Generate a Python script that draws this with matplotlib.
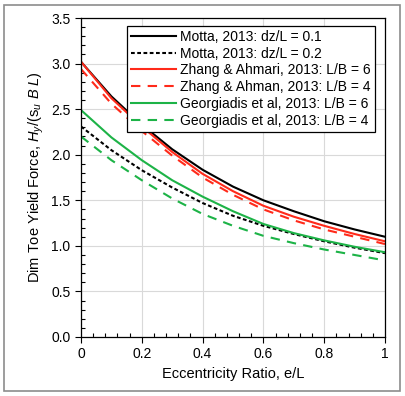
import matplotlib
matplotlib.use("Agg")
import matplotlib.pyplot as plt
from matplotlib.patches import Rectangle
from matplotlib.ticker import MultipleLocator

plt.rcParams['font.family'] = ['Liberation Sans', 'DejaVu Sans']
plt.rcParams['mathtext.fontset'] = 'custom'
plt.rcParams['mathtext.rm'] = 'Liberation Sans'
plt.rcParams['mathtext.it'] = 'Liberation Sans:italic'

# eccentricity ratio e/L
ecc = [0.0, 0.1, 0.2, 0.3, 0.4, 0.5, 0.6, 0.7, 0.8, 0.9, 1.0]

motta_01 = [3.02, 2.64, 2.33, 2.06, 1.835, 1.65, 1.50, 1.38, 1.27, 1.18, 1.10]
motta_02 = [2.31, 2.05, 1.83, 1.64, 1.47, 1.33, 1.22, 1.13, 1.05, 0.98, 0.92]
zhang_6 = [3.02, 2.62, 2.31, 2.03, 1.79, 1.60, 1.44, 1.32, 1.22, 1.13, 1.05]
zhang_4 = [2.94, 2.56, 2.26, 1.99, 1.75, 1.56, 1.40, 1.28, 1.18, 1.10, 1.02]
georg_6 = [2.49, 2.19, 1.94, 1.72, 1.54, 1.38, 1.24, 1.14, 1.06, 0.99, 0.93]
georg_4 = [2.20, 1.94, 1.72, 1.52, 1.35, 1.22, 1.11, 1.03, 0.96, 0.90, 0.84]

labels = [
    "Motta, 2013: dz/L = 0.1",
    "Motta, 2013: dz/L = 0.2",
    "Zhang & Ahmari, 2013: L/B = 6",
    "Zhang & Ahman, 2013: L/B = 4",
    "Georgiadis et al, 2013: L/B = 6",
    "Georgiadis et al, 2013: L/B = 4",
]

red = "#FF2A1A"
green = "#1DB347"

fig = plt.figure(figsize=(4.05, 3.96), dpi=100)
ax = fig.add_axes([0.2, 0.149, 0.7506, 0.8055])

# chart border
fig.patches.append(Rectangle((4 / 405, 5 / 396), 396 / 405, 386 / 396,
                             transform=fig.transFigure, fill=False,
                             edgecolor="#8c8c8c", lw=1.2))

ax.plot(ecc, motta_01, color="black", lw=1.5, label=labels[0])
ax.plot(ecc, motta_02, color="black", lw=1.5, dashes=(1.8, 1.2), label=labels[1])
ax.plot(ecc, zhang_6, color=red, lw=1.5, label=labels[2])
ax.plot(ecc, zhang_4, color=red, lw=1.5, dashes=(4.5, 3.5), label=labels[3])
ax.plot(ecc, georg_6, color=green, lw=1.5, label=labels[4])
ax.plot(ecc, georg_4, color=green, lw=1.5, dashes=(4.5, 3.5), label=labels[5])

ax.set_xlim(0, 1)
ax.set_ylim(0, 3.5)
ax.xaxis.set_minor_locator(MultipleLocator(0.04))
ax.yaxis.set_minor_locator(MultipleLocator(0.1))
ax.set_xticks([0, 0.2, 0.4, 0.6, 0.8, 1.0], ["0", "0.2", "0.4", "0.6", "0.8", "1"])
ax.set_yticks([0, 0.5, 1.0, 1.5, 2.0, 2.5, 3.0, 3.5],
              ["0.0", "0.5", "1.0", "1.5", "2.0", "2.5", "3.0", "3.5"])
ax.tick_params(which="major", direction="out", length=4, width=0.8, labelsize=10)
ax.tick_params(which="minor", direction="in", length=3, width=0.8)
ax.grid(True, which="major", color="#d9d9d9", lw=0.8)
ax.set_axisbelow(True)
for s in ax.spines.values():
    s.set_linewidth(0.9)

ax.set_xlabel("Eccentricity Ratio, e/L", fontsize=10.5, labelpad=4)
ax.set_ylabel(r"Dim Toe Yield Force, $H_y$/(s$_u$ $B$ $L$)", fontsize=10.5, labelpad=4)

leg = ax.legend(loc="upper right", bbox_to_anchor=(0.977, 0.985), fontsize=10,
                handlelength=3.2, handletextpad=0.35, borderpad=0.3,
                labelspacing=0.2, fancybox=False, framealpha=1,
                edgecolor="black", borderaxespad=0.2)
leg.get_frame().set_linewidth(0.9)

fig.savefig("out.png", dpi=100)
